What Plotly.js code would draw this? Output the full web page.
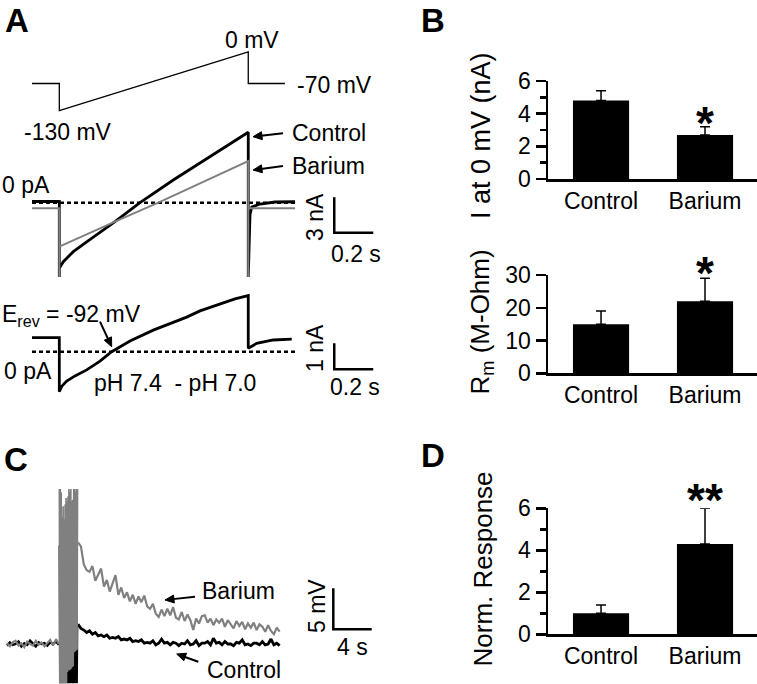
<!DOCTYPE html>
<html><head><meta charset="utf-8">
<script src="https://cdn.plot.ly/plotly-3.0.1.min.js"></script>
<style>html,body{margin:0;padding:0;background:#fff}#chart{width:757px;height:684px}</style>
</head><body><div id="chart"></div>
<script>
// ================= DATA =================
// Panel A - voltage protocol (time s, mV)
const protoT = [0, 0.14, 0.14, 1.109, 1.109, 1.297];
const protoV = [-70, -70, -130, 0, -70, -70];
// Panel A - ramp currents (time s, nA)
const ctrlT = [0, 0.14, 0.14, 0.14, 0.1605, 0.2118, 0.2805, 0.4256, 0.5538, 0.7246, 1.109, 1.109, 1.118, 1.127, 1.169, 1.246, 1.349];
const ctrlI = [0.1, 0.1, -6.3, -5.56, -5.0, -4.15, -3.31, -1.61, 0, 1.92, 5.97, -6.3, -1.0, -0.36, -0.11, 0.06, 0.08];
const baT = [0, 0.14, 0.14, 0.14, 0.4256, 0.6477, 1.109, 1.109, 1.109, 1.349];
const baI = [-0.47, -0.47, -6.3, -3.73, -1.61, 0, 3.53, -6.3, -0.47, -0.47];
// Panel A - pH 7.4 minus pH 7.0 difference current (time s, nA)
const phT = [0, 0.14, 0.14, 0.1538, 0.178, 0.2205, 0.2805, 0.3487, 0.4087, 0.5026, 0.622, 0.6908, 0.7933, 0.8615, 0.9641, 1.041, 1.109, 1.109, 1.152, 1.237, 1.332];
const phI = [0.54, 0.54, -1.54, -1.32, -1.13, -0.93, -0.70, -0.36, 0, 0.41, 0.83, 1.03, 1.33, 1.57, 1.85, 2.03, 2.16, 0.13, 0.32, 0.45, 0.48];
const zeroT = [0, 1.349];
const zeroI = [0, 0];
// Panel C - membrane potential (mV); sampled traces: start time (s) and step (s)
const preStart = 0, preStep = 0.3;
const baPre = [0.1,-0.3,0.2,0.4,-0.2,0.1,-0.4,0.3,0.0,-0.2,0.4,-0.1,0.2,-0.3,0.1,0.5,-0.2,0.6,0.0];
const ctPre = [-0.2,0.2,-0.1,0.0,0.3,-0.3,0.1,-0.1,0.4,0.0,-0.3,0.2,0.0,0.1,-0.2,0.2,0.0,0.3,-0.1];
const artStart = 5.45, artStep = 0.05;
const baArt = [18.9,-4.8,18.9,-4.8,18.5,-4.8,15.5,-4.8,16.8,-4.8,15.2,-4.8,17.0,-4.8,17.8,-4.8,17.4,-3.4,18.0,-3.2,18.9,-3.2,18.6,-3.1,18.9,-3.0,17.4,-2.8,17.6,-2.7,18.9,-1.0,18.9,-0.9,18.6,-0.8,18.9,-0.7,18.9];
const ctArt = [12,-4.8,12,-4.8,12,-4.8,12,-4.8,12,-4.8,12,-4.8,12,-4.8,12,-4.8,12,-4.8,12,-4.8,12,-4.8,12,-4.8,12,-4.8,12,-4.8,12,-4.8,12,-4.8,12,-4.8,12,-4.8,12,-4.8,2.5];
const postStart = 7.4, postStep = 0.3;
const baPost = [12.4,11.9,9.7,9.0,8.8,9.5,7.7,8.4,9.2,7.0,
                7.8,6.4,7.3,8.4,6.0,6.9,5.6,6.3,5.2,6.0,
                4.9,5.8,5.1,5.9,4.6,4.3,4.9,3.7,3.3,4.2,
                3.4,4.3,3.5,4.5,3.2,3.0,3.9,2.8,3.6,2.9,
                1.7,3.1,2.5,3.4,3.5,2.6,3.1,2.3,3.0,2.6,
                3.1,2.1,2.9,2.4,1.9,2.8,2.2,2.7,1.8,2.5,
                2.0,2.6,1.7,2.4,2.1,1.5,2.3,1.6,1.2,2.0,1.5];
const ctPost = [2.4,1.9,1.7,1.4,1.6,1.2,1.4,1.0,1.1,0.9,
                1.1,0.7,0.8,0.7,0.9,0.5,0.6,0.5,0.7,0.3,
                0.4,0.3,0.5,0.1,0.2,0.1,0.4,-0.1,0.1,0.6,
                0.1,0.2,-0.1,0.2,0.1,-0.2,0.1,0.0,0.4,-0.1,
                0.0,0.4,-0.2,0.1,0.1,0.3,-0.1,0.7,0.1,0.2,
                -0.1,0.3,0.0,0.0,-0.2,0.2,0.1,0.5,-0.1,0.0,
                -0.2,0.1,0.1,-0.1,0.3,-0.1,0.0,0.6,-0.1,0.1,-0.2];
// Bar charts
const groups = ['Control', 'Barium'];
const iAt0mV = [4.8, 2.7];
const iAt0mVErr = [0.6, 0.5];
const rm = [15, 22];
const rmErr = [4, 7];
const normResp = [1.0, 4.3];
const normRespErr = [0.4, 1.7];
const sigI = '*', sigRm = '*', sigNorm = '**';
// Scale bar sizes
const sbTimeA = 0.2, sbCurA = 3, sbCurA2 = 1, sbTimeC = 4, sbVoltC = 5;

// ================= LAYOUT HELPERS =================
const W = 757, H = 684;
const FONT = 'Liberation Sans, Arial, Helvetica, sans-serif';
const xDom = (l, r) => [l / W, r / W];
const yDom = (t, b) => [1 - b / H, 1 - t / H];
const axRange = (p0, v0, p1, v1, d0, d1) => { const s = (v1 - v0) / (p1 - p0); return [v0 + (d0 - p0) * s, v0 + (d1 - p0) * s]; };
const P = (px, py) => ({ x: px / W, y: 1 - py / H, xref: 'paper', yref: 'paper' });
const GRAY = '#808080';

const traces = [];
const line = (x, y, xa, ya, color, width, dash) => ({ type: 'scatter', mode: 'lines', x, y, xaxis: xa, yaxis: ya, line: { color, width, dash: dash || 'solid' }, hoverinfo: 'skip', cliponaxis: false });
const sampled = (x0, dx, y, xa, ya, color, width) => ({ type: 'scatter', mode: 'lines', x0, dx, y, xaxis: xa, yaxis: ya, line: { color, width }, hoverinfo: 'skip' });

// Panel A
traces.push(line(protoT, protoV, 'x', 'y', 'black', 1.3));
traces.push(line(zeroT, zeroI, 'x', 'y2', 'black', 2.5, '4px,3px'));
traces.push(line(ctrlT, ctrlI, 'x', 'y2', 'black', 2.8));
traces.push(line(baT, baI, 'x', 'y2', GRAY, 2));
traces.push(line(zeroT, zeroI, 'x', 'y3', 'black', 2.5, '4px,3px'));
traces.push(line(phT, phI, 'x', 'y3', 'black', 2.8));
// scale bars A
const sbA = { t: 1.55, i: -2.54 }, sbA2 = { t: 1.55, i: -0.677 };
traces.push(line([sbA.t, sbA.t, sbA.t + sbTimeA], [sbA.i + sbCurA, sbA.i, sbA.i], 'x', 'y2', 'black', 2.5));
traces.push(line([sbA2.t, sbA2.t, sbA2.t + sbTimeA], [sbA2.i + sbCurA2, sbA2.i, sbA2.i], 'x', 'y3', 'black', 2.5));

// Panel C
traces.push(sampled(preStart, preStep, ctPre, 'x2', 'y4', 'black', 2.4));
traces.push(sampled(artStart, artStep, ctArt, 'x2', 'y4', 'black', 1.6));
traces.push(sampled(postStart, postStep, ctPost, 'x2', 'y4', 'black', 2.8));
traces.push(sampled(preStart, preStep, baPre, 'x2', 'y4', GRAY, 2));
traces.push(sampled(artStart, artStep, baArt, 'x2', 'y4', GRAY, 1.6));
traces.push(sampled(postStart, postStep, baPost, 'x2', 'y4', GRAY, 2.2));
const sbC = { t: 33.99, v: 1.79 };
traces.push(line([sbC.t, sbC.t, sbC.t + sbTimeC], [sbC.v + sbVoltC, sbC.v, sbC.v], 'x2', 'y4', 'black', 2.5));

// Bars
const bar = (y, err, xa, ya) => ({ type: 'bar', x: groups, y, xaxis: xa, yaxis: ya, width: 0.54, marker: { color: 'black', line: { width: 0 } },
  error_y: { type: 'data', array: err, arrayminus: [0, 0], symmetric: false, color: 'black', thickness: 1.5, width: 5 }, hoverinfo: 'skip' });
traces.push(bar(iAt0mV, iAt0mVErr, 'x3', 'y5'));
traces.push(bar(rm, rmErr, 'x4', 'y6'));
traces.push(bar(normResp, normRespErr, 'x5', 'y7'));

// ================= AXES =================
const hidden = (domain, range, anchor) => ({ visible: false, domain, range, autorange: false, anchor, fixedrange: true, showgrid: false, zeroline: false });
const barX = (dom, anchor) => ({ domain: xDom(dom[0], dom[1]), anchor, type: 'category', range: [-0.51, 1.5], autorange: false, showline: true, linewidth: 2.5, linecolor: 'black',
  ticks: '', showgrid: false, zeroline: false, tickfont: { size: 23, color: 'black' }, fixedrange: true });
const barY = (top, bot, range, dtick, minor, anchor) => {
  const a = { domain: yDom(top, bot), anchor, range, autorange: false, showline: true, linewidth: 2.5, linecolor: 'black', ticks: 'outside', ticklen: 10, tickwidth: 2.5, tickcolor: 'black',
    tick0: 0, dtick, showgrid: false, zeroline: false, tickfont: { size: 23, color: 'black' }, fixedrange: true };
  if (minor) a.minor = { dtick: minor, ticks: 'outside', ticklen: 6, tickwidth: 2.5, tickcolor: 'black', showgrid: false };
  return a;
};

const layout = {
  width: W, height: H, margin: { l: 0, r: 0, t: 0, b: 0 }, paper_bgcolor: 'white', plot_bgcolor: 'rgba(0,0,0,0)', showlegend: false,
  font: { family: FONT, color: 'black', size: 23 },
  xaxis: hidden(xDom(0, 400), axRange(32, 0, 227, 1, 0, 400), 'y'),
  yaxis: hidden(yDom(25, 125), axRange(52, 0, 83.5, -70, 125, 25), 'x'),
  yaxis2: hidden(yDom(115, 295), axRange(202.7, 0, 238.1, -3, 295, 115), 'x'),
  yaxis3: hidden(yDom(280, 410), axRange(351.7, 0, 377.7, -1, 410, 280), 'x'),
  xaxis2: hidden(xDom(0, 400), axRange(7, 0, 16.6, 1, 0, 400), 'y4'),
  yaxis4: hidden(yDom(470, 684), axRange(644, 0, 635.8, 1, 684, 470), 'x2'),
  xaxis3: barX([548, 757], 'y5'),
  yaxis5: barY(81, 179, [0, 6], 2, 1, 'x3'),
  xaxis4: barX([548, 757], 'y6'),
  yaxis6: barY(275, 373.3, [0, 30], 10, null, 'x4'),
  xaxis5: barX([548, 757], 'y7'),
  yaxis7: barY(508.3, 634.3, [0, 6], 2, 1, 'x5'),
};

// ================= ANNOTATIONS & ARROWS =================
const ann = [];
const txt = (t, px, py, xanchor, opts) => ann.push(Object.assign(P(px, py), { text: t, showarrow: false, xanchor: xanchor || 'center', yanchor: 'middle', font: { size: 23, color: 'black', family: FONT } }, opts || {}));
const letterTop = (t, px) => ann.push(Object.assign(P(px, 0), { text: '<b>' + t + '</b>', showarrow: false, xanchor: 'center', yanchor: 'top', font: { size: 33, color: 'black', family: FONT } }));
const letter = (t, px, py) => txt('<b>' + t + '</b>', px, py, 'center', { font: { size: 33, color: 'black', family: FONT } });

const shapes = [];
// arrow drawn as a shaft + filled head (pixel geometry converted to paper units)
const arrow = (tx, ty, hx, hy) => {
  const dx = hx - tx, dy = hy - ty, L = Math.hypot(dx, dy), ux = dx / L, uy = dy / L;
  const hl = 9, hw = 4;
  const bx = hx - ux * hl, by = hy - uy * hl;
  shapes.push({ type: 'line', xref: 'paper', yref: 'paper', x0: tx / W, y0: 1 - ty / H, x1: (bx + ux) / W, y1: 1 - (by + uy) / H, line: { color: 'black', width: 2 } });
  const pts = [[hx, hy], [bx - uy * hw, by + ux * hw], [bx + uy * hw, by - ux * hw]];
  const path = 'M' + pts.map(p => (p[0] / W) + ',' + (1 - p[1] / H)).join(' L') + ' Z';
  shapes.push({ type: 'path', xref: 'paper', yref: 'paper', path, fillcolor: 'black', line: { color: 'black', width: 1 } });
};

letterTop('A', 17); letterTop('B', 432.5); letter('C', 15.5, 459); letter('D', 432.5, 455);
// Panel A labels
txt('0 mV', 252, 40);
txt('-70 mV', 295, 85, 'left');
txt('-130 mV', 22, 131.7, 'left');
txt('Control', 290, 133.3, 'left');
txt('Barium', 290, 165.7, 'left');
arrow(283, 133.3, 253, 136.7);
arrow(283, 166, 253, 170);
txt('0 pA', 0, 184.5, 'left');
txt('3 nA', 315.5, 217.5, 'center', { textangle: -90 });
txt('0.2 s', 356, 253.5);
txt('E<sub>rev</sub> = -92 mV', 0, 315, 'left');
arrow(100, 321.7, 111.7, 346.7);
txt('0 pA', 2, 371, 'left');
txt('pH 7.4\u00a0 - pH 7.0', 92, 383.3, 'left');
txt('1 nA', 315, 348, 'center', { textangle: -90 });
txt('0.2 s', 355, 386.5);
// Panel C labels
txt('Barium', 200, 590.7, 'left');
arrow(195, 596.7, 165, 600);
txt('Control', 205, 670, 'left');
arrow(198.3, 661.7, 176.7, 654);
txt('5 mV', 317, 606, 'center', { textangle: -90 });
txt('4 s', 352, 647);
// bar-chart axis titles
txt('I at 0 mV (nA)', 481, 136, 'center', { textangle: -90, font: { size: 27, color: 'black', family: FONT } });
txt('R<sub>m</sub> (M-Ohm)', 481, 322.5, 'center', { textangle: -90, font: { size: 26, color: 'black', family: FONT } });
txt('Norm. Response', 482, 568.5, 'center', { textangle: -90, font: { size: 26, color: 'black', family: FONT } });
// significance stars
const star = (t, py) => txt('<b>' + t + '</b>', 705, py, 'center', { font: { size: 46, color: 'black', family: FONT } });
star(sigI, 123); star(sigRm, 273); star(sigNorm, 500);

layout.annotations = ann;
layout.shapes = shapes;

Plotly.newPlot('chart', traces, layout, { displayModeBar: false, staticPlot: true });
</script>
</body></html>
